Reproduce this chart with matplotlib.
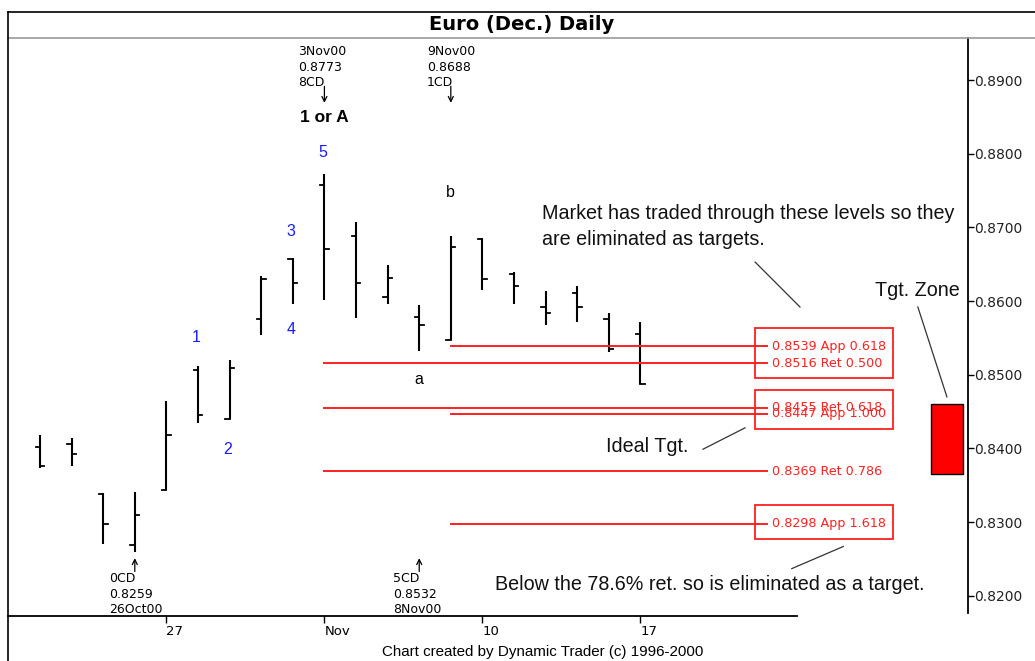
import numpy as np
import matplotlib
matplotlib.use('Agg')
import matplotlib.pyplot as plt
from matplotlib.lines import Line2D
from matplotlib.patches import Rectangle

# daily bars, 23 Oct 2000 .. 17 Nov 2000 (trading days)
days = ['23Oct', '24Oct', '25Oct', '26Oct', '27Oct', '30Oct', '31Oct', '1Nov', '2Nov', '3Nov',
        '6Nov', '7Nov', '8Nov', '9Nov', '10Nov', '13Nov', '14Nov', '15Nov', '16Nov', '17Nov']
opens = [0.8402, 0.8406, 0.8338, 0.8269, 0.8343, 0.8506, 0.8440, 0.8576, 0.8657, 0.8757,
         0.8688, 0.8606, 0.8578, 0.8547, 0.8684, 0.8637, 0.8592, 0.8611, 0.8576, 0.8555]
highs = [0.8418, 0.8414, 0.8339, 0.8341, 0.8464, 0.8512, 0.8520, 0.8634, 0.8659, 0.8773,
         0.8707, 0.8649, 0.8595, 0.8688, 0.8685, 0.8640, 0.8614, 0.8620, 0.8584, 0.8572]
lows = [0.8374, 0.8376, 0.8270, 0.8259, 0.8343, 0.8434, 0.8440, 0.8554, 0.8596, 0.8602,
        0.8577, 0.8596, 0.8532, 0.8547, 0.8615, 0.8596, 0.8567, 0.8571, 0.8531, 0.8488]
closes = [0.8376, 0.8393, 0.8298, 0.8310, 0.8418, 0.8445, 0.8509, 0.8630, 0.8624, 0.8671,
          0.8624, 0.8632, 0.8568, 0.8674, 0.8630, 0.8621, 0.8584, 0.8592, 0.8535, 0.8488]

tick_idx = [4, 9, 14, 19]
tick_labels = ['27', 'Nov', '10', '17']
yticks = [0.82, 0.83, 0.84, 0.85, 0.86, 0.87, 0.88, 0.89]

# fibonacci levels
levels = [0.8539, 0.8516, 0.8455, 0.8447, 0.8369, 0.8298]
level_names = ['App 0.618', 'Ret 0.500', 'Ret 0.618', 'App 1.000', 'Ret 0.786', 'App 1.618']
level_start = [13, 9, 9, 13, 9, 13]
boxed_groups = [[0, 1], [2, 3], [5]]
zone = [0.8369, 0.8455]

plt.rcParams['font.family'] = ['Liberation Sans', 'DejaVu Sans']
W, H = 1035, 661
fig = plt.figure(figsize=(W / 100, H / 100), dpi=100)

# frame and title band
fig.add_artist(Line2D([8 / W, 1], [1 - 12 / H, 1 - 12 / H], color='black', lw=1.2))
fig.add_artist(Line2D([8 / W, 1], [1 - 38 / H, 1 - 38 / H], color='#999999', lw=1.2))
fig.add_artist(Line2D([8 / W, 8 / W], [0, 1 - 12 / H], color='black', lw=1.2))
fig.text(522 / W, 1 - 25 / H, 'Euro (Dec.) Daily', ha='center', va='center',
         fontsize=14, fontweight='bold', family='DejaVu Sans')
fig.text(543 / W, 1 - 652 / H, 'Chart created by Dynamic Trader (c) 1996-2000',
         ha='center', va='center', fontsize=10.9)

ax = fig.add_axes([8 / W, 1 - 616 / H, 960 / W, 578 / H])
x0, x1 = -1.013, 29.367
y0, y1 = 0.81727, 0.89570
ax.set_xlim(x0, x1)
ax.set_ylim(y0, y1)
for s in ['left', 'top']:
    ax.spines[s].set_visible(False)
ax.spines['bottom'].set_bounds(x0, 23.96)
ax.spines['right'].set_bounds(0.8177, y1)
ax.spines['bottom'].set_linewidth(1.3)
ax.spines['right'].set_linewidth(1.3)
ax.yaxis.tick_right()
ax.set_yticks(yticks)
ax.set_yticklabels(['%.4f' % v for v in yticks], fontsize=10, family='DejaVu Sans', color='#222222')
ax.tick_params(axis='y', direction='out', length=4, width=1, pad=0.5)
ax.set_xticks(tick_idx)
ax.set_xticklabels(tick_labels, fontsize=9.5, family='DejaVu Sans', ha='left')
ax.tick_params(axis='x', direction='out', length=5, width=1, pad=1.5)

# OHLC bars
tk = 0.14
for i in range(len(days)):
    ax.plot([i, i], [lows[i], highs[i]], color='black', lw=1.5, solid_capstyle='butt')
    ax.plot([i - tk, i], [opens[i], opens[i]], color='black', lw=1.3)
    ax.plot([i, i + tk], [closes[i], closes[i]], color='black', lw=1.3)

# levels and labels
x_end = 23.0
for lv, nm, st in zip(levels, level_names, level_start):
    ax.plot([st, x_end], [lv, lv], color='#ff2020', lw=1.4)
    ax.text(x_end + 0.17, lv, '%.4f %s' % (lv, nm), color='#ff2020', fontsize=9.2,
            family='DejaVu Sans', va='center', ha='left')
for g in boxed_groups:
    top = max(levels[k] for k in g) + 0.0025
    bot = min(levels[k] for k in g) - 0.0021
    ax.add_patch(Rectangle((22.62, bot), 4.38, top - bot, fill=False, ec='#ff2020', lw=1.3))

# target zone
ax.add_patch(Rectangle((28.2, zone[0] - 0.0004), 1.0, zone[1] - zone[0] + 0.0009,
                       fc='#ff0000', ec='black', lw=1.0))

# swing annotations
small = dict(fontsize=9, family='DejaVu Sans', linespacing=1.25)
ax.text(9 - 0.82, 0.89470, '3Nov00\n%.4f\n8CD' % highs[9], va='top', ha='left', **small)
ax.text(13 - 0.75, 0.89470, '9Nov00\n%.4f\n1CD' % highs[13], va='top', ha='left', **small)
arr = dict(arrowstyle='->', lw=0.9, color='black', shrinkA=0, shrinkB=0, mutation_scale=9)
for xi in [9, 13]:
    ax.annotate('', xy=(xi, 0.88690), xytext=(xi, 0.88915), arrowprops=arr)
for xi in [3, 12]:
    ax.annotate('', xy=(xi, 0.82512), xytext=(xi, 0.82330), arrowprops=arr)
ax.text(9, 0.88495, '1 or A', ha='center', va='center', fontsize=12.5, fontweight='bold')
ax.text(3 - 0.82, 0.8232, '0CD\n%.4f\n26Oct00' % lows[3], va='top', ha='left', **small)
ax.text(12 - 0.83, 0.8232, '5CD\n%.4f\n8Nov00' % lows[12], va='top', ha='left', **small)

# wave counts
for lab, xi, yv in [('5', 9, 0.8802), ('3', 8, 0.8695), ('4', 8, 0.8562),
                    ('1', 5, 0.8551), ('2', 6, 0.8398)]:
    ax.text(xi - 0.05, yv, lab, color='#1a1aff', fontsize=11.5, ha='center', va='center')
ax.text(13, 0.8747, 'b', fontsize=11.5, ha='center', va='center')
ax.text(12, 0.8493, 'a', fontsize=11.5, ha='center', va='center')

# comments
big = dict(fontsize=14.2, color='#111111')
ax.text(15.89, 0.8701, 'Market has traded through these levels so they\nare eliminated as targets.',
        ha='left', va='center', linespacing=1.45, **big)
ax.plot([22.63, 24.05], [0.8653, 0.8592], color='#333333', lw=0.9)
ax.text(27.78, 0.8614, 'Tgt. Zone', ha='center', va='center', **big)
ax.plot([27.78, 28.70], [0.8592, 0.8470], color='#333333', lw=0.9)
ax.text(19.21, 0.8403, 'Ideal Tgt.', ha='center', va='center', **big)
ax.plot([20.98, 22.31], [0.8399, 0.8428], color='#333333', lw=0.9)
ax.text(21.2, 0.8215, 'Below the 78.6% ret. so is eliminated as a target.', ha='center', va='center', **big)
ax.plot([23.79, 25.42], [0.8237, 0.8267], color='#333333', lw=0.9)

fig.savefig('out.png', dpi=100)
